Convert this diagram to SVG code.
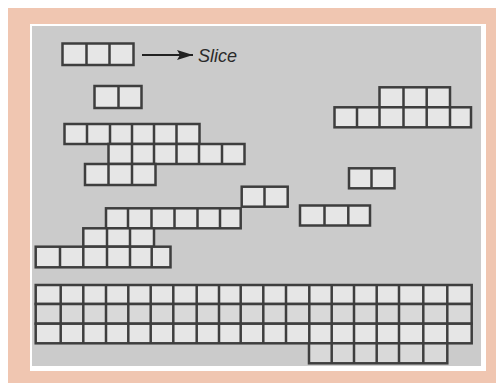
<svg xmlns="http://www.w3.org/2000/svg" width="496" height="383" viewBox="0 0 496 383">
<style>
.row{fill:#e6e6e6;stroke:#3e3e3e;stroke-width:2.5}
.dk{fill:#d9d9d9}
.sep{fill:none;stroke:#3e3e3e;stroke-width:2.5}
.lbl{font-family:"Liberation Sans",Arial,sans-serif;font-style:italic;font-size:18px;fill:#2a2a2a}
</style>
<defs>
<marker id="ah" viewBox="0 0 16 10" refX="16" refY="5" markerWidth="16" markerHeight="10" markerUnits="userSpaceOnUse" orient="auto">
<path d="M0,0 L16,5 L0,10 L3,5 Z" fill="#222"/>
</marker>
</defs>
<rect x="0" y="0" width="496" height="383" fill="#ffffff"/>
<rect x="8" y="8" width="488" height="375" fill="#f0c6b1"/>
<rect x="30" y="24" width="456" height="347" fill="#ffffff"/>
<rect x="32" y="26" width="449" height="340" fill="#cbcbcb"/>

<g id="slice-block">
<rect class="row" x="62.5" y="43.5" width="71" height="21.5"/>
<path class="sep" d="M86.5,43.5V65M109.5,43.5V65"/>
</g>
<g id="connectors">
<line x1="142" y1="55" x2="193" y2="55" stroke="#222" stroke-width="2.2" marker-end="url(#ah)"/>
</g>
<g id="slice-label">
<text class="lbl" x="198" y="62" textLength="39" lengthAdjust="spacingAndGlyphs">Slice</text>
</g>

<g id="block-two-a">
<rect class="row" x="94.5" y="86" width="47" height="22"/>
<path class="sep" d="M118.5,86V108"/>
</g>

<g id="block-stair-a">
<rect class="row" x="64.5" y="124" width="135" height="20"/>
<path class="sep" d="M87,124V144M110,124V144M132,124V144M154,124V144M176.5,124V144"/>
<rect class="row" x="108.5" y="144" width="136" height="20"/>
<path class="sep" d="M132,144V164M154,144V164M176.5,144V164M199,144V164M222,144V164"/>
<rect class="row" x="85" y="164" width="70.5" height="21"/>
<path class="sep" d="M108.5,164V185M132,164V185"/>
</g>

<g id="block-right-top">
<rect class="row" x="379.5" y="87.3" width="70.5" height="20"/>
<path class="sep" d="M403.5,87.3V107.3M426.7,87.3V107.3"/>
<rect class="row" x="334.5" y="107.3" width="136.5" height="20"/>
<path class="sep" d="M357,107.3V127.3M379.5,107.3V127.3M403.5,107.3V127.3M426.7,107.3V127.3M450,107.3V127.3"/>
</g>

<g id="block-two-right">
<rect class="row" x="349" y="168.3" width="45.5" height="20"/>
<path class="sep" d="M371.5,168.3V188.3"/>
</g>

<g id="block-two-mid">
<rect class="row" x="241.7" y="186.7" width="46" height="20"/>
<path class="sep" d="M264.5,186.7V206.7"/>
</g>

<g id="block-three-right">
<rect class="row" x="300" y="205.5" width="70" height="20"/>
<path class="sep" d="M324.5,205.5V225.5M348.3,205.5V225.5"/>
</g>

<g id="block-stair-b">
<rect class="row" x="106" y="208.3" width="134.7" height="20"/>
<path class="sep" d="M128,208.3V228.3M151.5,208.3V228.3M174.5,208.3V228.3M197.5,208.3V228.3M220,208.3V228.3"/>
<rect class="row" x="83.3" y="228.3" width="70.7" height="18.4"/>
<path class="sep" d="M107,228.3V246.7M130,228.3V246.7"/>
<rect class="row" x="35.7" y="246.7" width="134.8" height="20.6"/>
<path class="sep" d="M60,246.7V267.3M83.3,246.7V267.3M107,246.7V267.3M130,246.7V267.3M151.7,246.7V267.3"/>
</g>

<g id="block-grid">
<rect class="row" x="35.7" y="285" width="436" height="19"/>
<rect class="row dk" x="35.7" y="304" width="436" height="19.7"/>
<rect class="row" x="35.7" y="323.7" width="436" height="19.6"/>
<rect class="row dk" x="309" y="343.3" width="138.3" height="20"/>
<path class="sep" d="M60.7,285V343.3M83.3,285V343.3M106,285V343.3M128.3,285V343.3M150.7,285V343.3M173.3,285V343.3M196.7,285V343.3M219,285V343.3M240.7,285V343.3M263.3,285V343.3M286,285V343.3M309.3,285V343.3M331.7,285V363.3M354,285V363.3M376.7,285V363.3M399,285V363.3M423.3,285V363.3M447.3,285V343.3"/>
</g>
</svg>
